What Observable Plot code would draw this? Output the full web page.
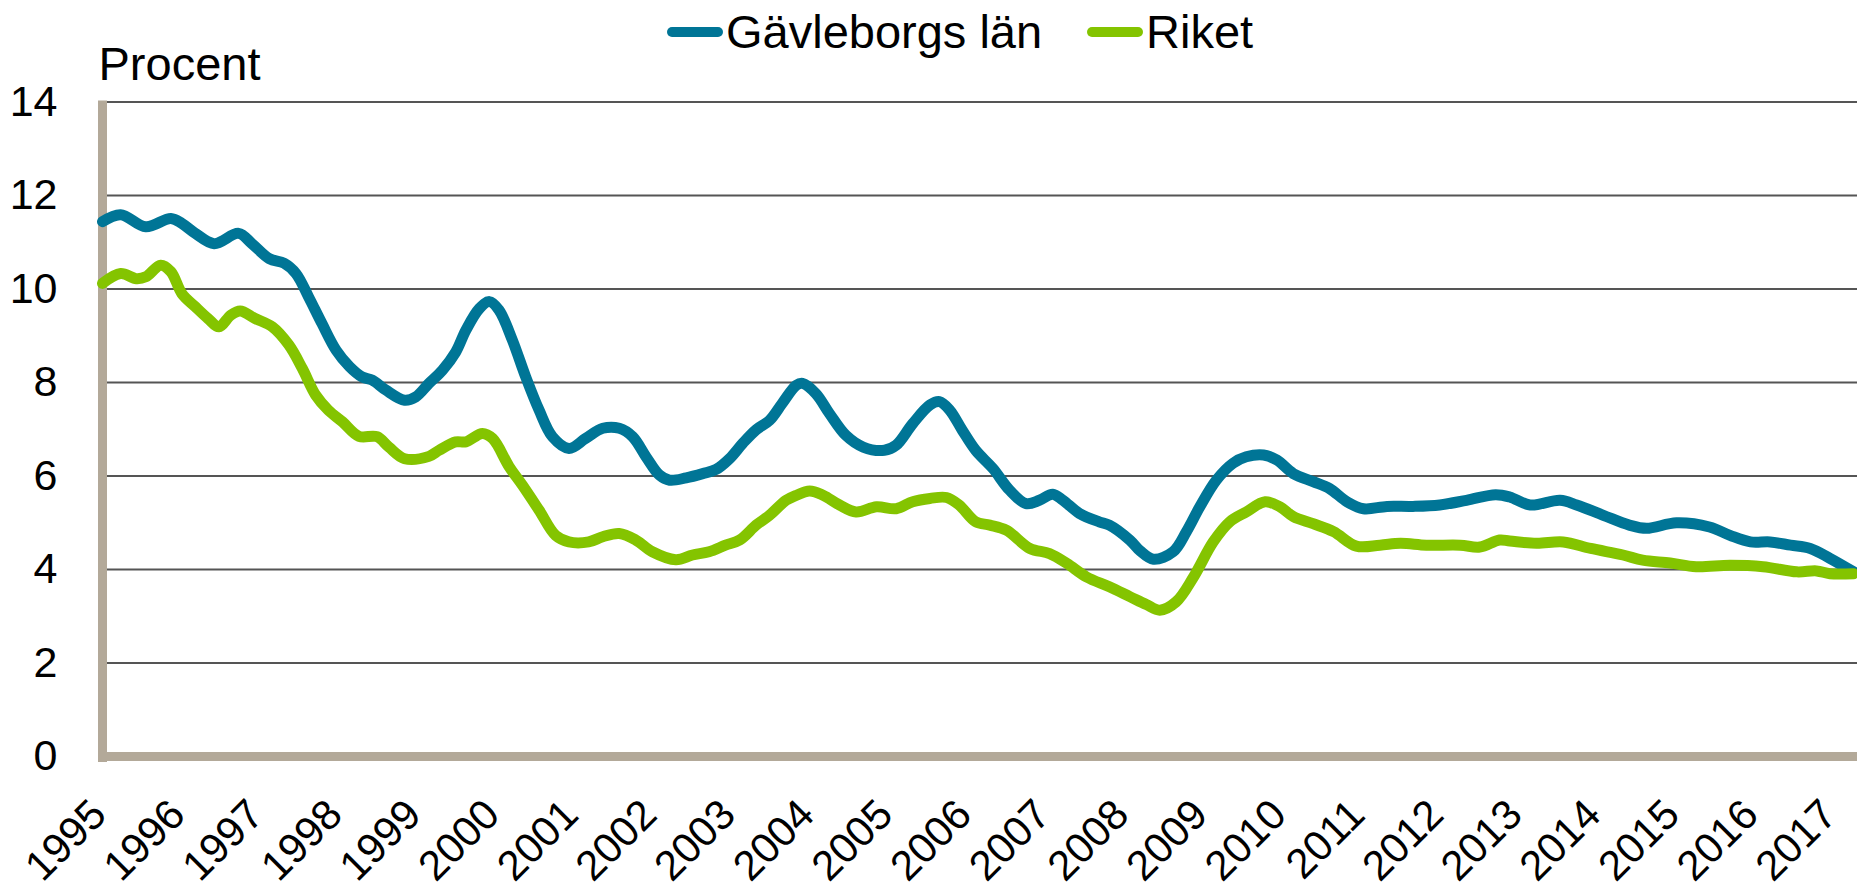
<!DOCTYPE html>
<html>
<head>
<meta charset="utf-8">
<script src="https://cdn.jsdelivr.net/npm/d3@7"></script>
<script src="https://cdn.jsdelivr.net/npm/@observablehq/plot@0.6"></script>
<style>
  html, body { margin: 0; padding: 0; background: #fff; }
  #wrap { position: relative; width: 1857px; height: 891px; font-family: "Liberation Sans", Arial, sans-serif; color: #000; }
  .sw { position: absolute; height: 10px; border-radius: 5px; }
  .lt { position: absolute; font-size: 47px; line-height: 1; white-space: nowrap; }
  #chart { position: absolute; left: 0; top: 0; }
</style>
</head>
<body>
<div id="wrap">
  <div id="chart"></div>
  <div class="sw" style="left:667px; top:27px; width:56px; background:#007596;"></div>
  <div class="lt" style="left:726px; top:8px;">Gävleborgs län</div>
  <div class="sw" style="left:1087px; top:27px; width:56px; background:#84c400;"></div>
  <div class="lt" style="left:1146px; top:8px;">Riket</div>
</div>
<script>
// Gävleborgs län (decimal year, percent)
const gavleYear = [1995.00,1995.23,1995.55,1995.87,1996.01,1996.18,1996.42,1996.73,1996.90,1997.12,1997.31,1997.46,1997.62,1997.79,1997.97,1998.14,1998.30,1998.43,1998.60,1998.84,1998.98,1999.15,1999.32,1999.49,1999.62,1999.79,1999.92,2000.04,2000.21,2000.38,2000.55,2000.72,2000.93,2001.14,2001.36,2001.57,2001.74,2001.91,2002.08,2002.21,2002.42,2002.63,2002.80,2002.97,2003.14,2003.31,2003.48,2003.64,2003.82,2003.90,2004.07,2004.24,2004.45,2004.67,2004.94,2005.09,2005.30,2005.52,2005.64,2005.77,2005.93,2006.10,2006.32,2006.53,2006.74,2006.91,2007.08,2007.21,2007.42,2007.67,2007.80,2008.06,2008.19,2008.36,2008.61,2008.78,2008.95,2009.16,2009.37,2009.54,2009.76,2009.93,2010.14,2010.39,2010.60,2010.82,2011.03,2011.33,2011.66,2012.00,2012.34,2012.71,2012.89,2013.15,2013.53,2013.74,2014.08,2014.41,2014.63,2015.01,2015.43,2015.69,2015.95,2016.20,2016.46,2016.71,2016.96,2017.26];
const gavleValue = [11.44,11.59,11.33,11.51,11.40,11.19,10.97,11.19,10.97,10.65,10.55,10.33,9.83,9.26,8.69,8.34,8.12,8.05,7.84,7.62,7.69,7.98,8.26,8.65,9.12,9.58,9.73,9.55,8.91,8.12,7.41,6.84,6.59,6.80,7.02,7.02,6.84,6.41,6.02,5.91,5.96,6.05,6.14,6.37,6.70,6.99,7.19,7.55,7.94,7.98,7.76,7.34,6.87,6.62,6.55,6.66,7.12,7.52,7.59,7.41,6.98,6.55,6.16,5.70,5.41,5.48,5.61,5.48,5.20,5.02,4.95,4.63,4.40,4.22,4.38,4.81,5.34,5.91,6.27,6.41,6.45,6.34,6.05,5.88,5.73,5.45,5.30,5.35,5.35,5.38,5.48,5.60,5.55,5.38,5.48,5.38,5.16,4.95,4.88,5.00,4.91,4.73,4.59,4.59,4.52,4.45,4.24,3.95];

// Riket (decimal year, percent)
const riketYear = [1995.00,1995.23,1995.43,1995.55,1995.74,1995.87,1996.01,1996.18,1996.34,1996.48,1996.63,1996.75,1996.94,1997.16,1997.37,1997.54,1997.71,1997.87,1998.05,1998.26,1998.49,1998.64,1998.84,1999.15,1999.28,1999.49,1999.62,1999.83,1999.96,2000.17,2000.34,2000.55,2000.76,2000.93,2001.18,2001.36,2001.57,2001.78,2001.99,2002.29,2002.50,2002.71,2002.92,2003.10,2003.31,2003.48,2003.69,2003.81,2003.99,2004.16,2004.37,2004.58,2004.84,2005.09,2005.30,2005.52,2005.73,2005.89,2006.10,2006.28,2006.49,2006.79,2007.04,2007.26,2007.51,2007.80,2008.06,2008.27,2008.44,2008.65,2008.87,2009.12,2009.33,2009.54,2009.78,2009.97,2010.14,2010.39,2010.65,2010.94,2011.24,2011.50,2011.83,2012.26,2012.51,2012.76,2012.89,2013.23,2013.57,2013.92,2014.33,2014.58,2014.93,2015.26,2015.69,2016.11,2016.54,2016.79,2016.96,2017.26];
const riketValue = [10.12,10.33,10.22,10.26,10.51,10.37,9.90,9.62,9.37,9.19,9.44,9.53,9.37,9.19,8.80,8.30,7.73,7.41,7.16,6.85,6.84,6.62,6.37,6.42,6.55,6.73,6.73,6.91,6.80,6.20,5.80,5.27,4.73,4.59,4.59,4.70,4.77,4.63,4.38,4.21,4.31,4.38,4.52,4.63,4.95,5.16,5.48,5.58,5.68,5.59,5.38,5.23,5.34,5.30,5.45,5.52,5.54,5.38,5.02,4.95,4.84,4.45,4.34,4.13,3.84,3.63,3.42,3.25,3.13,3.31,3.84,4.59,5.02,5.23,5.45,5.34,5.13,4.98,4.81,4.50,4.52,4.56,4.52,4.52,4.48,4.63,4.61,4.56,4.59,4.45,4.31,4.20,4.14,4.06,4.09,4.06,3.95,3.97,3.91,3.91];

const xTickYears = [1995,1996,1997,1998,1999,2000,2001,2002,2003,2004,2005,2006,2007,2008,2009,2010,2011,2012,2013,2014,2015,2016,2017];
const yTicks = [0,2,4,6,8,10,12,14];

const blue = "#007596";
const green = "#84c400";
const axisColor = "#b3a999";

const gavle = gavleYear.map((t, i) => ({t, v: gavleValue[i]}));
const riket = riketYear.map((t, i) => ({t, v: riketValue[i]}));

const chart = Plot.plot({
  width: 1857,
  height: 891,
  marginTop: 101.5,
  marginBottom: 135,
  marginLeft: 102,
  marginRight: 4,
  style: {fontFamily: "'Liberation Sans', Arial, sans-serif", background: "transparent", color: "#000", overflow: "visible"},
  x: {domain: [1995, 2017.26]},
  y: {domain: [0, 14]},
  marks: [
    Plot.ruleY(yTicks.filter(d => d > 0), {stroke: "#555", strokeWidth: 2, insetLeft: 4, insetRight: -4}),
    Plot.axisY(yTicks, {tickSize: 0, tickPadding: 45, fontSize: 43, label: null}),
    Plot.axisX(xTickYears, {tickSize: 0, tickPadding: 51, tickRotate: -45, textAnchor: "end", lineAnchor: "middle", dx: -3.5, fontSize: 42, tickFormat: "d", label: null}),
    Plot.ruleX([1995], {stroke: axisColor, strokeWidth: 9, insetTop: -1, insetBottom: -6}),
    Plot.ruleY([0], {stroke: axisColor, strokeWidth: 9, insetLeft: -4, insetRight: -4}),
    Plot.line(gavle, {x: "t", y: "v", stroke: blue, strokeWidth: 11, curve: "catmull-rom", strokeLinecap: "round", strokeLinejoin: "round"}),
    Plot.line(riket, {x: "t", y: "v", stroke: green, strokeWidth: 11, curve: "catmull-rom", strokeLinecap: "round", strokeLinejoin: "round"}),
    Plot.text(["Procent"], {frameAnchor: "top-left", textAnchor: "start", lineAnchor: "middle", dx: -4, dy: -37, fontSize: 47, fill: "#000"})
  ]
});
document.getElementById("chart").appendChild(chart);
</script>
</body>
</html>
